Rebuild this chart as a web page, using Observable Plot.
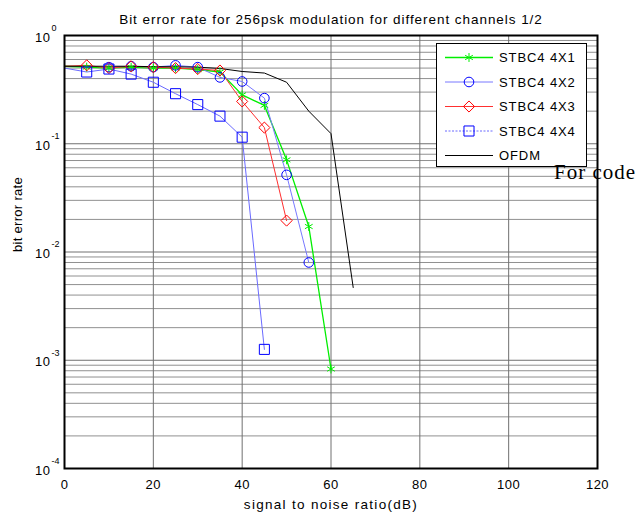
<!DOCTYPE html>
<html>
<head>
<meta charset="utf-8">
<script src="https://cdn.jsdelivr.net/npm/d3@7"></script>
<script src="https://cdn.jsdelivr.net/npm/@observablehq/plot@0.6"></script>
<style>
  body { margin: 0; background: #fff; }
  #wrap { position: relative; width: 639px; height: 517px; font-family: "Liberation Sans", Arial, sans-serif; }
  #wrap > svg { position: absolute; left: 0; top: 0; }
</style>
</head>
<body>
<div id="wrap"></div>
<script>
// ---------- data ----------
const titleText = "Bit error rate for 256psk modulation for different channels 1/2";
const xLabel = "signal to noise ratio(dB)";
const yLabel = "bit error rate";
const noteText = "For code";

const seriesNames = ["STBC4 4X1", "STBC4 4X2", "STBC4 4X3", "STBC4 4X4", "OFDM"];

const snr4x1 = [0, 5, 10, 15, 20, 25, 30, 35, 40, 45, 50, 55, 60];
const ber4x1 = [0.52, 0.51, 0.50, 0.51, 0.50, 0.50, 0.485, 0.46, 0.283, 0.226, 0.071, 0.0172, 0.00083];

const snr4x2 = [10, 15, 20, 25, 30, 35, 40, 45, 50, 55];
const ber4x2 = [0.51, 0.52, 0.51, 0.53, 0.51, 0.41, 0.376, 0.264, 0.0516, 0.0080];

const snr4x3 = [0, 5, 10, 15, 20, 25, 30, 35, 40, 45, 50];
const ber4x3 = [0.52, 0.53, 0.50, 0.52, 0.51, 0.50, 0.49, 0.475, 0.246, 0.141, 0.0195];

const snr4x4 = [0, 5, 10, 15, 20, 25, 30, 35, 40, 45];
const ber4x4 = [0.50, 0.46, 0.49, 0.44, 0.37, 0.29, 0.23, 0.18, 0.115, 0.00126];

const snrOfdm = [0, 5, 10, 15, 20, 25, 30, 35, 40, 45, 50, 55, 60, 65];
const berOfdm = [0.52, 0.52, 0.52, 0.52, 0.515, 0.515, 0.51, 0.496, 0.465, 0.45, 0.37, 0.2, 0.124, 0.0047];

const xTicks = [0, 20, 40, 60, 80, 100, 120];
const yTicks = [1e-4, 1e-3, 1e-2, 1e-1, 1];
const yTickExp = ["-4", "-3", "-2", "-1", "0"];
const yMinorMult = [2, 3, 4, 5, 6, 7, 8, 9];

// ---------- styles ----------
const styles = [
  {lineColor: "#00ee00", markColor: "#00ee00", symbol: "asterisk", r: 4.2, lw: 1.3},
  {lineColor: "#7878ff", markColor: "#0000ff", symbol: "circle", r: 4.8, lw: 1},
  {lineColor: "#ff3030", markColor: "#ff0000", symbol: "diamond2", r: 5.0, lw: 1},
  {lineColor: "#6a6aff", markColor: "#0000ff", symbol: "square2", r: 6.4, lw: 1, legendDash: "2,1.5"},
  {lineColor: "#000000", markColor: null, symbol: null, r: 0, lw: 1}
];

const toRows = (xs, ys) => xs.map((x, i) => ({x, y: ys[i]}));
const rows = [
  toRows(snr4x1, ber4x1),
  toRows(snr4x2, ber4x2),
  toRows(snr4x3, ber4x3),
  toRows(snr4x4, ber4x4),
  toRows(snrOfdm, berOfdm)
];
const markerRows = [
  rows[0].filter(d => d.x > 0),
  rows[1].filter(d => d.x > 0),
  rows[2].filter(d => d.x > 0),
  rows[3].filter(d => d.x > 0),
  []
];

const yMinor = [];
for (let k = -4; k < 0; k++) for (const m of yMinorMult) yMinor.push(m * Math.pow(10, k));

const W = 639, H = 517, ML = 64, MR = 42, MT = 35, MB = 49;

const marks = [
  Plot.ruleY(yMinor, {stroke: "#909090", strokeWidth: 1}),
  Plot.ruleY(yTicks, {stroke: "#707070", strokeWidth: 1}),
  Plot.ruleX(xTicks.slice(1, -1), {stroke: "#707070", strokeWidth: 1})
];
rows.forEach((data, i) => {
  const s = styles[i];
  marks.push(Plot.line(data, {x: "x", y: "y", stroke: s.lineColor, strokeWidth: s.lw}));
});
markerRows.forEach((data, i) => {
  const s = styles[i];
  if (!s.symbol) return;
  marks.push(Plot.dot(data, {x: "x", y: "y", symbol: s.symbol, r: s.r, stroke: s.markColor, fill: "none", strokeWidth: 1}));
});
marks.push(
  Plot.frame({stroke: "black", strokeWidth: 2}),
  Plot.axisX({ticks: xTicks, tickSize: 0, tickPadding: 11, fontSize: 13, label: null}),
  Plot.axisY({ticks: yTicks, tickSize: 0, tickPadding: 14, tickFormat: () => "10", label: null, dy: 2, fontSize: 13}),
  Plot.text(yTicks, {y: d => d, text: (d, i) => yTickExp[i], frameAnchor: "left", dx: -13, textAnchor: "start", dy: -7.5, fontSize: 9}),
  Plot.text([titleText], {frameAnchor: "top", lineAnchor: "middle", dy: -16, fontSize: 13.5}),
  Plot.text([xLabel], {frameAnchor: "bottom", lineAnchor: "middle", dy: 36, fontSize: 13.5}),
  Plot.text([yLabel], {frameAnchor: "left", lineAnchor: "middle", dx: -47, rotate: -90, fontSize: 13})
);

const chart = Plot.plot({
  width: W, height: H,
  marginLeft: ML, marginRight: MR, marginTop: MT, marginBottom: MB,
  style: {fontFamily: '"Liberation Sans", Arial, sans-serif', background: "white", color: "black", fontSize: "13px"},
  x: {domain: [0, 120]},
  y: {type: "log", domain: [1e-4, 1]},
  marks
});
document.getElementById("wrap").appendChild(chart);

// letter spacing to mimic the wide MATLAB text rendering
d3.select(chart).selectAll("text").each(function () {
  const t = this.textContent;
  if (t === titleText) this.setAttribute("letter-spacing", "0.95");
  else if (t === xLabel) this.setAttribute("letter-spacing", "1.3");
  else if (t === yLabel) this.setAttribute("letter-spacing", "0.3");
});
d3.select(chart).selectAll("g[aria-label='x-axis tick label'] text, g[aria-label='y-axis tick label'] text").attr("letter-spacing", "0.5");

// ---------- legend + note overlay ----------
const ov = d3.select("#wrap").append("svg")
  .attr("width", W).attr("height", H)
  .style("font-family", '"Liberation Sans", Arial, sans-serif');
ov.append("rect").attr("x", 436.5).attr("y", 43.5).attr("width", 150).attr("height", 123)
  .attr("fill", "white").attr("stroke", "black").attr("stroke-width", 1);
const symMap = {asterisk: d3.symbolAsterisk, circle: d3.symbolCircle, diamond2: d3.symbolDiamond2, square2: d3.symbolSquare2};
seriesNames.forEach((name, i) => {
  const s = styles[i];
  const y = 57.5 + i * 24.5;
  ov.append("line").attr("x1", 445).attr("x2", 493).attr("y1", y).attr("y2", y)
    .attr("stroke", s.lineColor).attr("stroke-width", s.lw)
    .attr("stroke-dasharray", s.legendDash || null);
  if (s.symbol) {
    ov.append("path").attr("transform", `translate(469,${y})`)
      .attr("d", d3.symbol(symMap[s.symbol], Math.PI * s.r * s.r)())
      .attr("fill", "none").attr("stroke", s.markColor).attr("stroke-width", 1);
  }
  ov.append("text").attr("x", 499).attr("y", y + 4.7).attr("font-size", 13)
    .attr("letter-spacing", "0.9").text(name);
});
ov.append("text").attr("x", 554).attr("y", 179)
  .attr("font-family", '"Liberation Serif", "Times New Roman", serif')
  .attr("font-size", 21).attr("letter-spacing", "1").text(noteText);
</script>
</body>
</html>
